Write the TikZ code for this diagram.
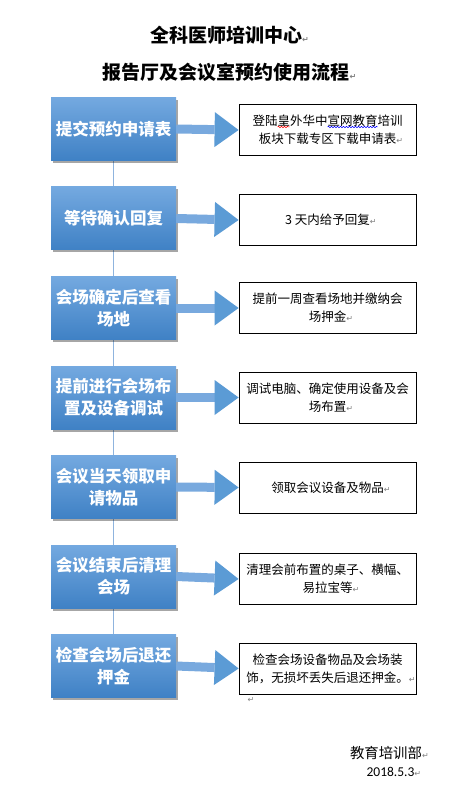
\documentclass[tikz,border=0pt]{standalone}
\usepackage{fontspec}
\newfontfamily\cjk{Noto Sans CJK SC}
\newfontfamily\symf{DejaVu Sans}
\newfontfamily\latf{Carlito}
\usetikzlibrary{shadows,arrows.meta,backgrounds,decorations.pathmorphing,calc}
\definecolor{boxtop}{HTML}{74A9E0}
\definecolor{boxbot}{HTML}{3F81C5}
\definecolor{headc}{HTML}{5B9BD5}
\definecolor{shaftc}{HTML}{78A9DE}
\definecolor{vlinec}{HTML}{8FB4DE}
\newcommand\retmark{\rlap{\symf\fontsize{8}{8}\selectfont\textcolor{gray}{↵}}}
\tikzset{
  stepbox/.style={minimum width=125pt, minimum height=63pt, inner sep=0pt,
    top color=boxtop, bottom color=boxbot, draw=none,
    drop shadow={shadow xshift=1.5pt, shadow yshift=-2.5pt, opacity=0.35, fill=black},
    text=white, align=center, font=\cjk\bfseries\fontsize{16.5}{22}\selectfont},
  notebox/.style={minimum width=177pt, minimum height=51pt, inner sep=0pt,
    draw=black, line width=0.8pt, fill=white, align=center,
    font=\cjk\fontsize{12.5}{18}\selectfont},
  bigarrow/.style={line width=9pt, draw=shaftc,
    -{Triangle[length=24pt,width=35pt,line width=0pt,color=headc,fill=headc]}},
  vline/.style={draw=vlinec, line width=1pt},
  titletext/.style={font=\cjk\bfseries\fontsize{19}{22}\selectfont, inner sep=0pt},
  wavyline/.style={decorate, decoration={snake, amplitude=0.7pt, segment length=3pt}, line width=0.5pt}
}
\begin{document}
\begin{tikzpicture}[x=1pt,y=-1pt]
\useasboundingbox (0,0) rectangle (467,791);

\node[titletext] (t1) at (226,35) {全科医师培训中心\retmark};
\node[titletext] (t2) at (226,72) {报告厅及会议室预约使用流程\retmark};

\node[stepbox] (b1) at (113.5,129) {提交预约申请表};
\node[stepbox] (b2) at (113.5,218.5) {等待确认回复};
\node[stepbox] (b3) at (113.5,308) {会场确定后查看\\场地};
\node[stepbox] (b4) at (113.5,397.5) {提前进行会场布\\置及设备调试};
\node[stepbox] (b5) at (113.5,487) {会议当天领取申\\请物品};
\node[stepbox] (b6) at (113.5,576.5) {会议结束后清理\\会场};
\node[stepbox] (b7) at (113.5,666) {检查会场后退还\\押金};

\node[notebox] (r1) at (327.5,130) {登陆皇外华中宣网教育培训\\板块下载专区下载申请表\retmark};
\node[notebox] (r2) at (327.5,220) {3 天内给予回复\retmark};
\node[notebox] (r3) at (327.5,308) {提前一周查看场地并缴纳会\\场押金\retmark};
\node[notebox] (r4) at (327.5,397.5) {调试电脑、确定使用设备及会\\场布置\retmark};
\node[notebox] (r5) at (327.5,487.5) {领取会议设备及物品\retmark};
\node[notebox] (r6) at (327.5,579) {清理会前布置的桌子、横幅、\\易拉宝等\retmark};
\node[notebox] (r7) at (327.5,668.5) {检查会场设备物品及会场装\\饰，无损坏丢失后退还押金。\retmark};

\begin{scope}[on background layer]
\fill[white] (0,0) rectangle (467,791);
\draw[vline] (b1) -- (b7);
\end{scope}

\foreach \i in {1,...,7}{
  \draw[bigarrow] (b\i.east) -- (r\i.west);
}

\draw[wavyline, red] ($(r1.center)+(-50,-3)$) -- ($(r1.center)+(-38,-3)$);
\draw[wavyline, blue] ($(r1.center)+(0,-3)$) -- ($(r1.center)+(50,-3)$);

\node[inner sep=0pt, anchor=west] (pm) at (247,700) {\retmark};

\node[inner sep=0pt, font=\cjk\fontsize{14.4}{16}\selectfont] (dept) at (386,753) {教育培训部\retmark};
\node[inner sep=0pt, font=\latf\fontsize{13.5}{16}\selectfont] (date) at (390.5,772) {2018.5.3\retmark};
\end{tikzpicture}
\end{document}
